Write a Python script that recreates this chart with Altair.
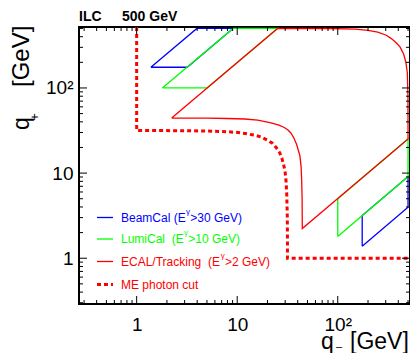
import altair as alt
import pandas as pd

# ---------------- data (q-, q+ in GeV) ----------------
# BeamCal acceptance (blue), two mirrored regions
beam_a_qm = [1.385, 3.18, 9.1, 3.97, 1.385]
beam_a_qp = [175, 175, 500, 500, 175]
beam_b_qm = [175, 175, 500, 500, 175]
beam_b_qp = [1.385, 3.18, 9.1, 3.97, 1.385]

# LumiCal acceptance (green)
lumi_a_qm = [1.8, 5.0, 25.2, 9.1, 1.8]
lumi_a_qp = [100, 100, 500, 500, 100]
lumi_b_qm = [100, 100, 500, 500, 100]
lumi_b_qp = [1.8, 5.0, 25.2, 9.1, 1.8]

# ECAL/Tracking acceptance (red), one closed contour
ecal_qm = [2.23, 25.2, 80, 150, 200, 250, 304, 335, 360, 385, 416, 452, 476, 492, 499, 500,
           44.4, 44.4, 44.2, 43.8, 43.2, 42, 39, 36.5, 34.3, 32, 29.4, 26, 21.7, 16, 11.9, 8, 5, 2.23]
ecal_qp = [44.4, 500, 499, 492, 476, 452, 416, 385, 360, 335, 304, 250, 200, 150, 80, 25.2,
           2.23, 2.23, 5, 8, 11.9, 16, 21.7, 26, 29.4, 32, 34.3, 36.5, 39, 42, 43.2, 43.8, 44.2, 44.4]

# ME photon cut (red dashed)
me_qm = [1, 1, 3, 5.6, 8, 10.2, 12, 15, 17.3, 20, 22.4, 24.4, 26.5, 27.8, 29.2, 30.0, 30.6,
         31.1, 31.5, 31.6, 31.6, 523]
me_qp = [520, 31.6, 31.5, 31.1, 30.6, 30.0, 29.2, 27.8, 26.5, 24.4, 22.4, 20, 17.3, 15, 12,
         10.2, 8, 5.6, 3, 1.6, 1, 1]

x_major = [1, 10, 100]
x_minor = [0.3, 0.4, 0.5, 0.6, 0.7, 0.8, 0.9, 2, 3, 4, 5, 6, 7, 8, 9,
           20, 30, 40, 50, 60, 70, 80, 90, 200, 300, 400, 500]
y_major = [1, 10, 100]
y_minor = [0.3, 0.4, 0.5, 0.6, 0.7, 0.8, 0.9, 2, 3, 4, 5, 6, 7, 8, 9,
           20, 30, 40, 50, 60, 70, 80, 90, 200, 300, 400, 500]

# legend labels: (text before superscript, superscript, text after)
legend_pre = ["BeamCal (E", "LumiCal\u00a0\u00a0(E", "ECAL/Tracking\u00a0\u00a0(E", "ME photon cut"]
legend_sup = ["\u03b3", "\u03b3", "\u03b3", ""]
legend_post = [">30 GeV)", ">10 GeV)", ">2 GeV)", ""]
# approximate text advance of the first part (em units, Arial metrics)
legend_pre_em = [5.39, 5.223, 8.281, 0]

# ---------------- layout / style ----------------
W, H = 331, 277
BLUE, GREEN, RED = "#0000ff", "#00ff00", "#ff0000"
FONT = "Liberation Sans"
XDOM = [0.267, 523]
YDOM = [0.29, 520]

xs = alt.Scale(type="log", domain=XDOM, nice=False)
ys = alt.Scale(type="log", domain=YDOM, nice=False)
LBL = "datum.value >= 100 ? '10\u00b2' : datum.value >= 10 ? '10' : '1'"
x_axis = alt.Axis(values=x_major, ticks=False, domain=False, grid=False, tickSize=0,
                  labelExpr=LBL, labelFontSize=19, labelFont=FONT, labelColor="black",
                  labelPadding=11, title=None)
y_axis = alt.Axis(values=y_major, ticks=False, domain=False, grid=False, tickSize=0,
                  labelExpr=LBL, labelFontSize=19, labelFont=FONT, labelColor="black",
                  labelPadding=6, title=None)


def frame(parts):
    rows = []
    for seg, (qm, qp) in enumerate(parts):
        for i, (a, b) in enumerate(zip(qm, qp)):
            rows.append({"qm": a, "qp": b, "seg": seg, "i": i})
    return pd.DataFrame(rows)


def curve(df, color, dash=None, width=1.3):
    kw = dict(clip=True, color=color, strokeWidth=width)
    if dash:
        kw["strokeDash"] = dash
    return alt.Chart(df).mark_line(**kw).encode(
        x=alt.X("qm:Q", scale=xs, axis=x_axis),
        y=alt.Y("qp:Q", scale=ys, axis=y_axis),
        detail="seg:N",
        order="i:Q",
    )


blue = curve(frame([(beam_a_qm, beam_a_qp), (beam_b_qm, beam_b_qp)]), BLUE)
green = curve(frame([(lumi_a_qm, lumi_a_qp), (lumi_b_qm, lumi_b_qp)]), GREEN)
red = curve(frame([(ecal_qm, ecal_qp)]), RED)
me = curve(frame([(me_qm, me_qp)]), RED, dash=[4, 3], width=3)


# ---------------- inward ticks on all four sides ----------------
def xticks(vals, ln):
    d = pd.DataFrame({"qm": vals})
    enc = dict(x=alt.X("qm:Q", scale=xs, axis=x_axis))
    b = alt.Chart(d).mark_rule(color="black", strokeWidth=1).encode(
        y=alt.value(H), y2=alt.value(H - ln), **enc)
    t = alt.Chart(d).mark_rule(color="black", strokeWidth=1).encode(
        y=alt.value(0), y2=alt.value(ln), **enc)
    return [b, t]


def yticks(vals, ln):
    d = pd.DataFrame({"qp": vals})
    enc = dict(y=alt.Y("qp:Q", scale=ys, axis=y_axis))
    l = alt.Chart(d).mark_rule(color="black", strokeWidth=1).encode(
        x=alt.value(0), x2=alt.value(ln), **enc)
    r = alt.Chart(d).mark_rule(color="black", strokeWidth=1).encode(
        x=alt.value(W), x2=alt.value(W - ln), **enc)
    return [l, r]


ticks = xticks(x_major, 8) + xticks(x_minor, 4) + yticks(y_major, 8) + yticks(y_minor, 4)


def label(txt, x, y, size, color="black", **kw):
    return alt.Chart(pd.DataFrame({"t": [txt]})).mark_text(
        font=FONT, fontSize=size, color=color, **kw).encode(
        x=alt.value(x), y=alt.value(y), text="t:N")


# ---------------- legend ----------------
LFS = 12
leg_colors = [BLUE, GREEN, RED, RED]
leg_y = [190.5, 212, 234.5, 257.5]
leg_layers = []
for pre, sup, post, em, col, yy in zip(legend_pre, legend_sup, legend_post,
                                       legend_pre_em, leg_colors, leg_y):
    rk = dict(color=col, strokeWidth=1.3)
    if not sup:
        rk = dict(color=col, strokeWidth=3, strokeDash=[4, 3])
    leg_layers.append(alt.Chart(pd.DataFrame({"t": [pre]})).mark_rule(**rk).encode(
        x=alt.value(18), x2=alt.value(34), y=alt.value(yy)))
    x0 = 42
    leg_layers.append(label(pre, x0, yy + 4.3, LFS, col, align="left", baseline="alphabetic"))
    if sup:
        xs_ = x0 + em * LFS + 0.3
        leg_layers.append(label(sup, xs_, yy - 4, 8, col, align="left", baseline="alphabetic"))
        leg_layers.append(label(post, xs_ + 4.3, yy + 4.3, LFS, col,
                                align="left", baseline="alphabetic"))

texts = [
    label("ILC", 0, -6, 14, align="left", baseline="alphabetic", fontWeight="bold"),
    label("500 GeV", 43, -6, 14, align="left", baseline="alphabetic", fontWeight="bold"),
    label("q", 242, 322, 23, align="left", baseline="alphabetic"),
    label("\u2013", 257, 323, 11, align="left", baseline="alphabetic"),
    label("[GeV]", 271, 322, 23, align="left", baseline="alphabetic"),
    label("q", -50, 103, 23, align="left", baseline="alphabetic", angle=270),
    label("+", -44.5, 90, 13, align="center", baseline="middle", angle=270),
    label("[GeV]", -50, 60, 24, align="left", baseline="alphabetic", angle=270),
]

chart = alt.layer(blue, green, red, me, *ticks, *leg_layers, *texts).properties(
    width=W, height=H,
    autosize=alt.AutoSizeParams(type="none"),
    padding={"left": 71, "top": 19, "right": 0, "bottom": 49},
).configure_view(stroke="black", strokeWidth=2)

chart.save("out.html", embed_options={"renderer": "svg", "actions": False})
